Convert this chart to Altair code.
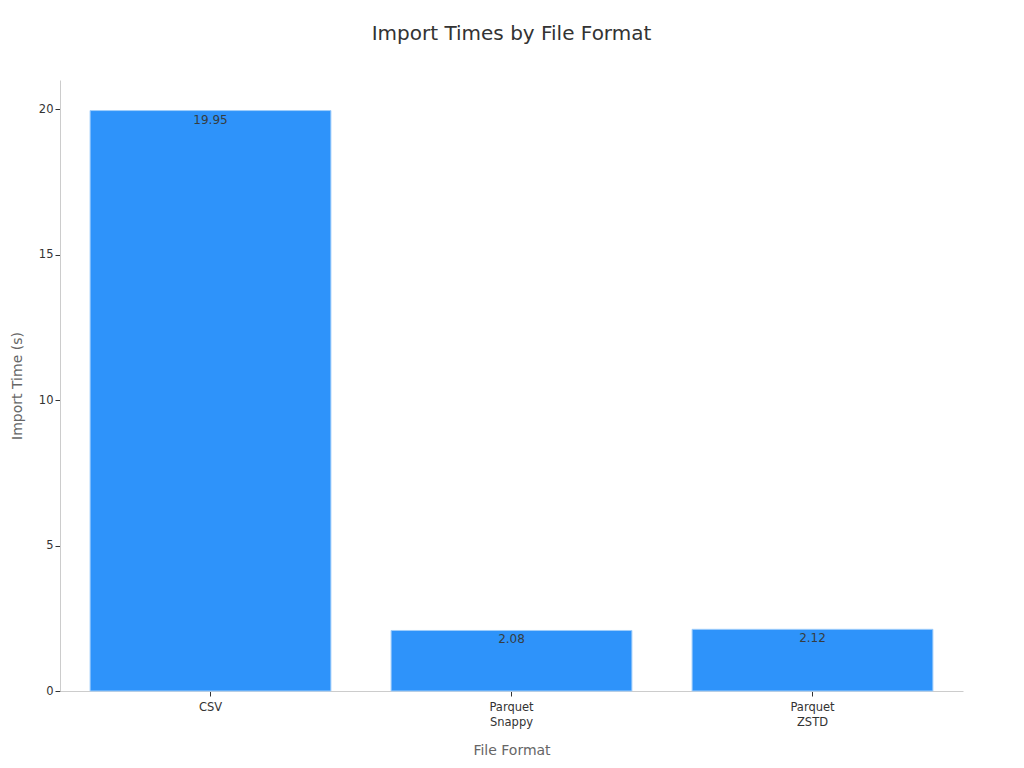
import altair as alt
import pandas as pd

formats = ["CSV", "Parquet Snappy", "Parquet ZSTD"]
times = [19.95, 2.08, 2.12]
labels = ["19.95", "2.08", "2.12"]

df = pd.DataFrame({"format": formats, "time": times, "label": labels})

FONT = "DejaVu Sans"

base = alt.Chart(df).encode(
    x=alt.X("format:N", sort=formats, title="File Format",
            scale=alt.Scale(paddingInner=0.2, paddingOuter=0.1),
            axis=alt.Axis(labelExpr="split(datum.label, ' ')", labelAngle=0,
                          labelFontSize=11.5, labelColor="#333", labelFont=FONT,
                          titleFontSize=14, titleColor="#666", titleFont=FONT,
                          titleFontWeight="normal", titlePadding=16,
                          domainColor="#ccc", tickColor="#333", tickSize=5,
                          labelPadding=5, labelLineHeight=15)),
    y=alt.Y("time:Q", title="Import Time (s)",
            scale=alt.Scale(domain=[0, 21], nice=False),
            axis=alt.Axis(values=[0, 5, 10, 15, 20], grid=False,
                          labelFontSize=11.5, labelColor="#333", labelFont=FONT,
                          titleFontSize=14, titleColor="#666", titleFont=FONT,
                          titleFontWeight="normal", titlePadding=14,
                          domainColor="#ccc", tickColor="#333", tickSize=5)),
)

bars = base.mark_bar(color="#2E93FA", stroke="#9fcdfb", strokeWidth=1)
text = base.mark_text(baseline="top", dy=4, fontSize=12, color="#373d3f", font=FONT).encode(
    text="label:N")

chart = (bars + text).properties(
    width=903, height=611,
    title=alt.TitleParams("Import Times by File Format", fontSize=20,
                          font=FONT, fontWeight="normal", color="#333", offset=36),
    padding={"left": 52, "top": 72, "right": 45, "bottom": 70},
    autosize=alt.AutoSizeParams(type="none"),
).configure_view(stroke=None)

chart.save("out.html", embed_options={"renderer": "svg", "actions": False})
